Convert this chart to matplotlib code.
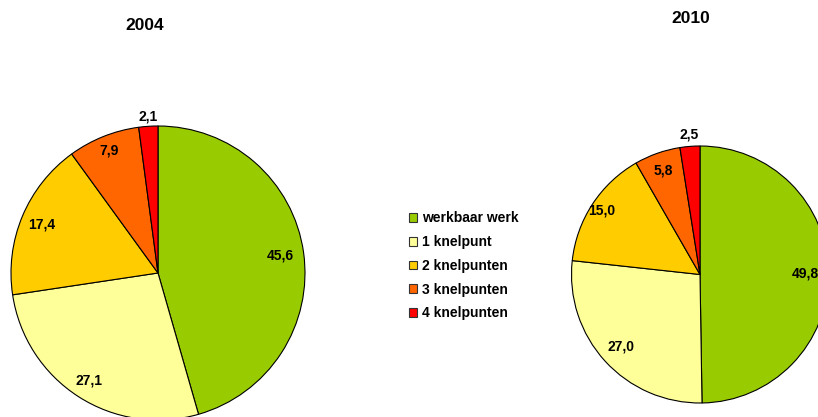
import numpy as np
import matplotlib
matplotlib.use("Agg")
import matplotlib.pyplot as plt
from matplotlib import font_manager

names = {f.name for f in font_manager.fontManager.ttflist}
FONT = "Liberation Sans Narrow" if "Liberation Sans Narrow" in names else "Liberation Sans"
plt.rcParams["font.family"] = [FONT, "DejaVu Sans"]

categories = ["werkbaar werk", "1 knelpunt", "2 knelpunten", "3 knelpunten", "4 knelpunten"]
values_2004 = [45.6, 27.1, 17.4, 7.9, 2.1]
values_2010 = [49.8, 27.0, 15.0, 5.8, 2.5]
colors = ["#99CC00", "#FFFF99", "#FFCC00", "#FF6600", "#FF0000"]

W, H = 818, 417
fig = plt.figure(figsize=(W / 100, H / 100), dpi=100)
ax = fig.add_axes([0, 0, 1, 1])


def draw_pie(vals, cx, cy, r, label_dist, title, tx, ty):
    # pixel coords with y measured from the top
    c = (cx, H - cy)
    wedges, _ = ax.pie(vals, colors=colors, startangle=90, counterclock=False,
                       center=c, radius=r, frame=True,
                       wedgeprops=dict(edgecolor="black", linewidth=0.8))
    total = sum(vals)
    start = 0.0
    for v, d in zip(vals, label_dist):
        mid = start + v / 2
        start += v
        ang = np.deg2rad(90 - 360 * mid / total)
        ax.text(c[0] + d * r * np.cos(ang), c[1] + d * r * np.sin(ang),
                f"{v:.1f}".replace(".", ","), ha="center", va="center",
                fontsize=10, fontweight="bold")
    ax.text(tx, H - ty, title, ha="center", va="center", fontsize=12.5, fontweight="bold")
    return wedges


wedges = draw_pie(values_2004, 158, 273, 147, [0.84, 0.87, 0.86, 0.9, 1.07], "2004", 145, 25)
draw_pie(values_2010, 700, 274.5, 128.5, [0.82, 0.83, 0.91, 0.86, 1.09], "2010", 691, 18)

ax.set_xlim(0, W)
ax.set_ylim(0, H)
ax.set_aspect("equal")
ax.axis("off")

leg = ax.legend(wedges, categories, loc="upper left", bbox_to_anchor=(396 / W, 1 - 199 / H),
                frameon=False, handlelength=0.6, handleheight=0.6, handletextpad=0.35,
                labelspacing=0.7, prop=dict(size=10, weight="bold"))
for h in leg.legend_handles:
    h.set_edgecolor("#333333")
    h.set_linewidth(0.8)

fig.savefig("out.png", dpi=100)
